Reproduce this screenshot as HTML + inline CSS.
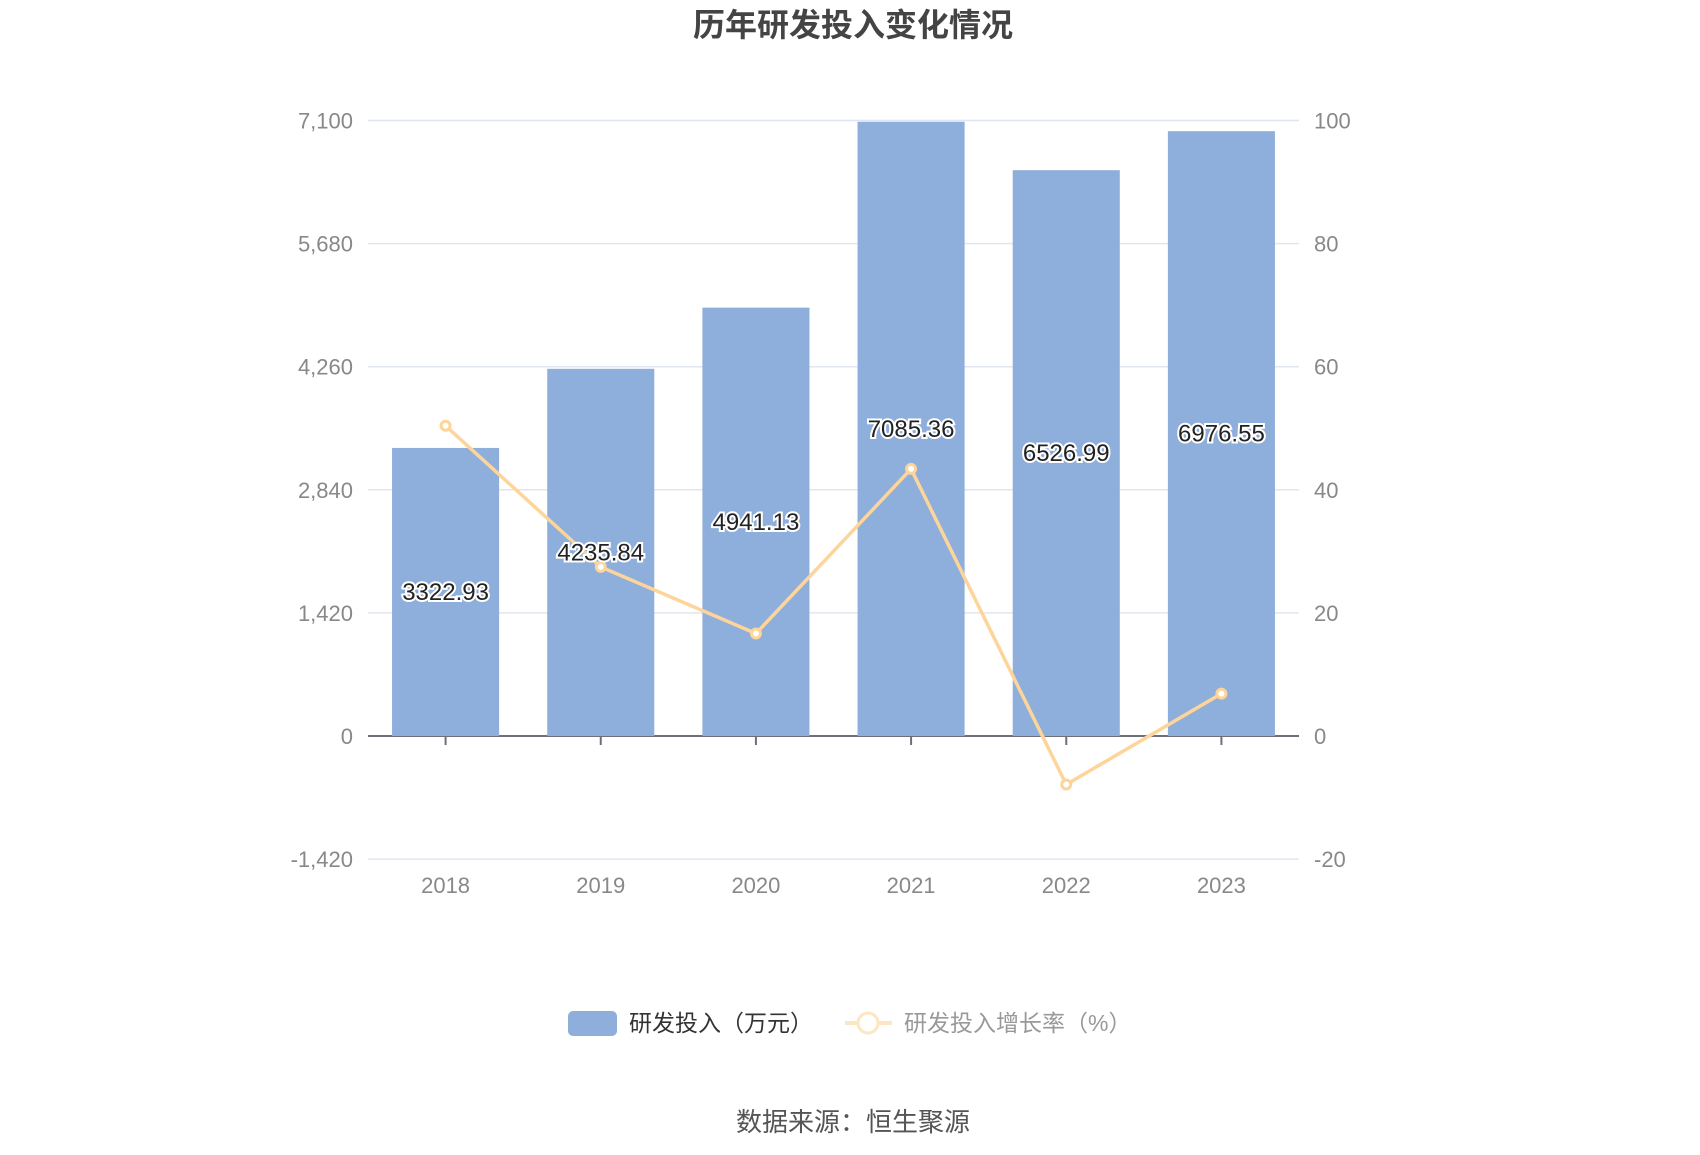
<!DOCTYPE html>
<html><head><meta charset="utf-8"><style>
body{margin:0;background:#fff;}
svg text{font-family:"Liberation Sans","Noto Sans CJK SC",sans-serif;}
</style></head><body>
<svg id="chart" width="1700" height="1150" viewBox="0 0 1700 1150" xmlns="http://www.w3.org/2000/svg">
<text x="853" y="36" text-anchor="middle" font-size="32" font-weight="bold" fill="#444">历年研发投入变化情况</text>
<g id="grid"></g><g id="bars"></g><g id="line"></g><g id="labels"></g>
<g>
<rect x="568" y="1011" width="49" height="25" rx="5" fill="#8eaedb"/>
<text x="629" y="1031" font-size="23" fill="#333">研发投入（万元）</text>
<line x1="845" y1="1023" x2="892" y2="1023" stroke="#fde6c2" stroke-width="4"/>
<circle cx="868" cy="1023" r="10" fill="#fff" stroke="#fde6c2" stroke-width="3"/>
<text x="904" y="1031" font-size="23" fill="#999">研发投入增长率（%）</text>
</g>
<text x="853" y="1131" text-anchor="middle" font-size="26" fill="#555">数据来源：恒生聚源</text>
</svg>
<script>
const categories=["2018","2019","2020","2021","2022","2023"];
const investment=[3322.93,4235.84,4941.13,7085.36,6526.99,6976.55];
const growth=[50.4,27.47,16.65,43.39,-7.88,6.89];
const leftTicks=[-1420,0,1420,2840,4260,5680,7100];
const rightTicks=[-20,0,20,40,60,80,100];
const NS="http://www.w3.org/2000/svg";
const L=368,R=1299,Y0=736,step=123.1;
const band=(R-L)/categories.length;
const xC=i=>L+band*(i+0.5);
const yL=v=>Y0-v/1420*step;
const yR=v=>Y0-v/20*step;
function mk(t,a,p){const e=document.createElementNS(NS,t);for(const k in a)e.setAttribute(k,a[k]);p.appendChild(e);return e;}
const grid=document.getElementById('grid');
leftTicks.forEach((v,i)=>{
  const y=yL(v);
  if(v!==0){const g=mk('line',{x1:L,x2:R,y1:y,y2:y,stroke:'#e0e6f1','stroke-width':1.5},grid);
  
  }
  const t=mk('text',{x:353,y:y+8,'text-anchor':'end','font-size':22,fill:'#888'},grid);t.textContent=v.toLocaleString('en-US');
  
  
  const r=mk('text',{x:1314,y:yR(rightTicks[i])+8,'font-size':22,fill:'#888'},grid);r.textContent=rightTicks[i];
  
  
});
const bars=document.getElementById('bars'),labels=document.getElementById('labels'),line=document.getElementById('line');
const bw=band*0.69;
investment.forEach((v,i)=>{
  const b=mk('rect',{x:xC(i)-bw/2,y:yL(v),width:bw,height:Y0-yL(v),fill:'#8eaedb'},bars);
  
  
  const t=mk('text',{x:xC(i),y:(yL(v)+Y0)/2+8,'text-anchor':'middle','font-size':24,fill:'#222',stroke:'#fff','stroke-width':4,'paint-order':'stroke'},labels);
  t.textContent=v.toFixed(2);
  
  
  const xl=mk('text',{x:xC(i),y:893,'text-anchor':'middle','font-size':22,fill:'#888'},grid);xl.textContent=categories[i];
  
  
  const tk=mk('line',{x1:xC(i),x2:xC(i),y1:Y0,y2:Y0+9,stroke:'#6e7079','stroke-width':2},grid);
  
  
});
const ax=mk('line',{x1:L,x2:R,y1:Y0,y2:Y0,stroke:'#6e7079','stroke-width':2},grid);


const pl=mk('polyline',{points:growth.map((v,i)=>xC(i)+','+yR(v)).join(' '),fill:'none',stroke:'#fdd59a','stroke-width':3.5},line);


growth.forEach((v,i)=>{
  const c=mk('circle',{cx:xC(i),cy:yR(v),r:4.5,fill:'#fff',stroke:'#fdd59a','stroke-width':3},line);
  
  
});
</script>
</body></html>
